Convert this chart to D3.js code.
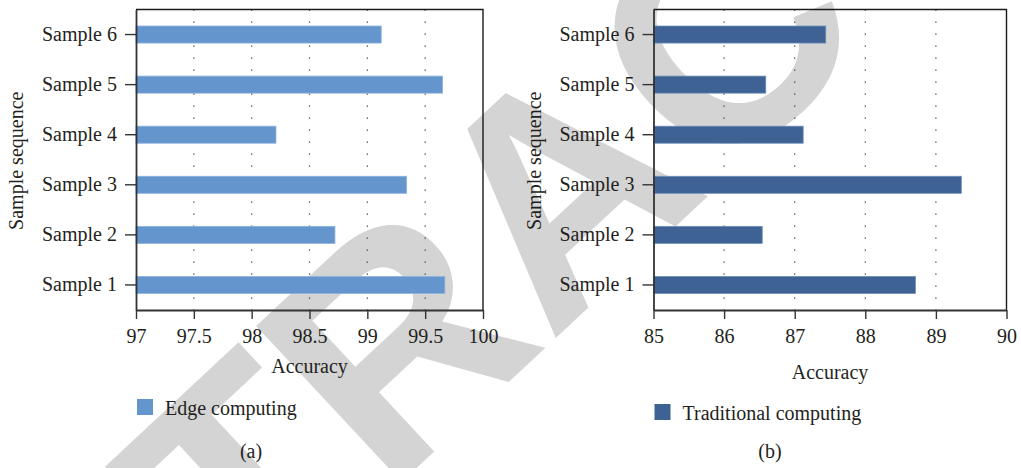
<!DOCTYPE html>
<html>
<head>
<meta charset="utf-8">
<script src="https://cdn.jsdelivr.net/npm/d3@7/dist/d3.min.js"></script>
<style>
  html, body { margin: 0; padding: 0; background: #ffffff; }
  svg { display: block; }
  text { font-family: "Liberation Serif", "DejaVu Serif", serif; fill: #231f20; }
</style>
</head>
<body>
<svg id="chart" width="1021" height="468"></svg>
<script>
// Sample categories, bottom to top
const categories = ["Sample 1", "Sample 2", "Sample 3", "Sample 4", "Sample 5", "Sample 6"];

// Accuracy per sample
const edgeValues = [99.67, 98.72, 99.34, 98.21, 99.65, 99.12];
const traditionalValues = [88.71, 86.54, 89.36, 87.12, 86.59, 87.44];

// Axis ticks
const edgeTicks = [97, 97.5, 98, 98.5, 99, 99.5, 100];
const traditionalTicks = [85, 86, 87, 88, 89, 90];

// Series and panel labels
const seriesNames = ["Edge computing", "Traditional computing"];
const panelTags = ["(a)", "(b)"];
const xTitle = "Accuracy";
const yTitle = "Sample sequence";
const stampText = "RETRACTED";

const svg = d3.select("#chart");

// Diagonal stamp lying beneath both panels
svg.append("text")
  .attr("transform", "translate(632,267) rotate(-43)")
  .attr("text-anchor", "middle")
  .style("font-family", "'Liberation Sans', Arial, sans-serif")
  .style("font-weight", "bold")
  .style("font-size", "310px")
  .style("fill", "#d4d4d4")
  .text(stampText);

function drawPanel(opts) {
  const { left, right, top, bottom, domain, ticks, values, color, edge,
          name, tag, titleX, xTitleY, legendY, legendTextY } = opts;

  const g = svg.append("g");

  const x = d3.scaleLinear().domain(domain).range([left, right]);
  const y = d3.scaleBand()
    .domain(categories.slice().reverse())
    .range([top, bottom])
    .paddingInner(0.66)
    .paddingOuter(0.33);

  // Dotted vertical guides at the inner ticks
  g.append("g")
    .selectAll("line")
    .data(ticks.slice(1, -1))
    .join("line")
    .attr("x1", d => x(d)).attr("x2", d => x(d))
    .attr("y1", top).attr("y2", bottom)
    .attr("stroke", "#444")
    .attr("stroke-width", 1.3)
    .attr("stroke-dasharray", "1.3,10.7");

  // Bars
  g.append("g")
    .selectAll("rect")
    .data(categories.map((c, i) => ({ c, v: values[i] })))
    .join("rect")
    .attr("x", x(domain[0]))
    .attr("y", d => y(d.c))
    .attr("width", d => x(d.v) - x(domain[0]))
    .attr("height", y.bandwidth())
    .attr("fill", color)
    .attr("stroke", edge)
    .attr("stroke-width", 0.8);

  // Frame: top and right edges
  g.append("path")
    .attr("d", `M${left},${top}H${right}V${bottom}`)
    .attr("fill", "none")
    .attr("stroke", "#1a1a1a")
    .attr("stroke-width", 1.4);

  // Bottom axis
  const xAxis = g.append("g")
    .attr("transform", `translate(0,${bottom})`)
    .call(d3.axisBottom(x).tickValues(ticks).tickFormat(d => String(d))
      .tickSize(9).tickSizeOuter(0).tickPadding(10));
  xAxis.select(".domain").attr("stroke", "#333").attr("stroke-width", 1.8);
  xAxis.selectAll(".tick line").attr("stroke", "#333").attr("stroke-width", 1.4);
  xAxis.selectAll(".tick text")
    .style("font-family", "'Liberation Serif', serif")
    .style("font-size", "20px")
    .attr("fill", "#231f20");

  // Left axis
  const yAxis = g.append("g")
    .attr("transform", `translate(${left},0)`)
    .call(d3.axisLeft(y).tickSize(11).tickSizeOuter(0).tickPadding(8));
  yAxis.select(".domain").attr("stroke", "#333").attr("stroke-width", 1.8);
  yAxis.selectAll(".tick line").attr("stroke", "#333").attr("stroke-width", 1.4);
  yAxis.selectAll(".tick text")
    .style("font-family", "'Liberation Serif', serif")
    .style("font-size", "20px")
    .attr("fill", "#231f20");

  // Axis titles
  g.append("text")
    .attr("x", (left + right) / 2)
    .attr("y", xTitleY)
    .attr("text-anchor", "middle")
    .style("font-size", "20px")
    .text(xTitle);

  g.append("text")
    .attr("transform", `translate(${titleX},${(top + bottom) / 2 + 1}) rotate(-90)`)
    .attr("text-anchor", "middle")
    .style("font-size", "20px")
    .text(yTitle);

  // Legend
  g.append("rect")
    .attr("x", left + 1)
    .attr("y", legendY)
    .attr("width", 16)
    .attr("height", 16)
    .attr("fill", color);
  g.append("text")
    .attr("x", left + 29)
    .attr("y", legendTextY)
    .style("font-size", "20px")
    .text(name);

  // Panel tag
  g.append("text")
    .attr("x", opts.tagX)
    .attr("y", 458)
    .attr("text-anchor", "middle")
    .style("font-size", "20px")
    .text(tag);
}

drawPanel({
  left: 136, right: 483, top: 9.5, bottom: 310,
  domain: [97, 100], ticks: edgeTicks, values: edgeValues,
  color: "#6595cd", edge: "#8db2df",
  name: seriesNames[0], tag: panelTags[0], tagX: 251,
  titleX: 23, xTitleY: 373, legendY: 399, legendTextY: 415
});

drawPanel({
  left: 653.5, right: 1006.5, top: 9.5, bottom: 310,
  domain: [85, 90], ticks: traditionalTicks, values: traditionalValues,
  color: "#3d6293", edge: "#6d8fbb",
  name: seriesNames[1], tag: panelTags[1], tagX: 770,
  titleX: 541, xTitleY: 379, legendY: 404, legendTextY: 420
});
</script>
</body>
</html>
